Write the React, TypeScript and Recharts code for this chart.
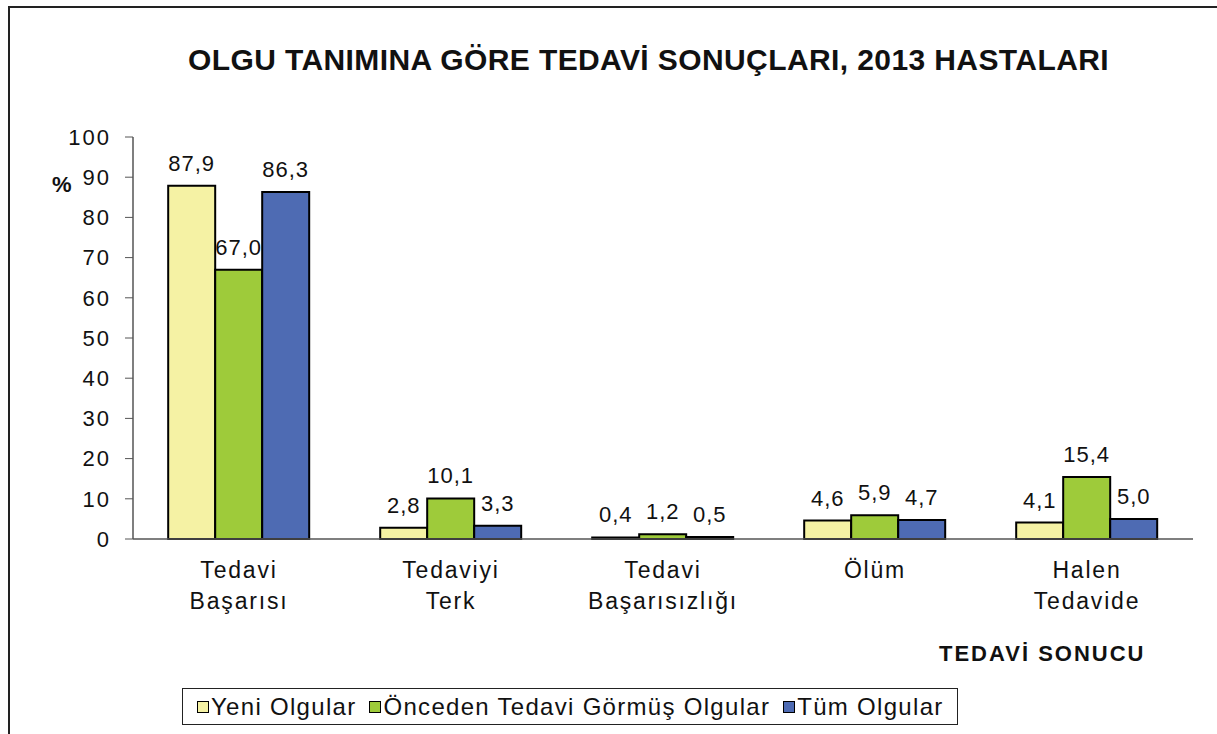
import { BarChart, Bar, XAxis, YAxis, LabelList } from "recharts";

const CATEGORIES = [
  ["Tedavi", "Başarısı"],
  ["Tedaviyi", "Terk"],
  ["Tedavi", "Başarısızlığı"],
  ["Ölüm"],
  ["Halen", "Tedavide"],
];
const YENI = [87.9, 2.8, 0.4, 4.6, 4.1];
const ONCEDEN = [67.0, 10.1, 1.2, 5.9, 15.4];
const TUM = [86.3, 3.3, 0.5, 4.7, 5.0];
const Y_TICKS = [0, 10, 20, 30, 40, 50, 60, 70, 80, 90, 100];
const EDGE_TICKS = [0, 1, 2, 3, 4, 5];

const SERIES = [
  { key: "yeni", name: "Yeni Olgular", color: "#F5F2A4" },
  { key: "onceden", name: "Önceden Tedavi Görmüş Olgular", color: "#9ECB3A" },
  { key: "tum", name: "Tüm Olgular", color: "#4E6BB3" },
];

const data = CATEGORIES.map((c, i) => ({
  name: c.join("\n"),
  yeni: YENI[i],
  onceden: ONCEDEN[i],
  tum: TUM[i],
}));

const FONT = '"Liberation Sans", Arial, sans-serif';
const fmt = (v: unknown) => Number(v).toFixed(1).replace(".", ",");

function CatTick(props: any) {
  const { x, y, payload } = props;
  const lines = String(payload.value).split("\n");
  return (
    <text x={x} y={y} textAnchor="middle" fill="#111" fontSize={23} fontFamily={FONT} letterSpacing={1.8}>
      {lines.map((l, i) => (
        <tspan key={i} x={x} y={y + 39 + i * 31}>
          {l}
        </tspan>
      ))}
    </text>
  );
}

export default function App() {
  return (
    <div style={{ position: "absolute", left: 0, top: 0, width: 1217, height: 734, overflow: "hidden", background: "#fff", fontFamily: FONT, color: "#111" }}>
      <div style={{ position: "absolute", left: 8, top: 6, width: 1300, height: 800, borderLeft: "2px solid #222", borderTop: "2px solid #222" }} />
      <div style={{ position: "absolute", left: 188, top: 45, fontSize: 30, lineHeight: "30px", fontWeight: "bold", letterSpacing: 0.4, whiteSpace: "nowrap" }}>
        OLGU TANIMINA GÖRE TEDAVİ SONUÇLARI, 2013 HASTALARI
      </div>
      <div style={{ position: "absolute", left: 52, top: 174, fontSize: 22, lineHeight: "22px", fontWeight: "bold" }}>%</div>
      <div style={{ position: "absolute", left: 939, top: 643, fontSize: 22, lineHeight: "22px", fontWeight: "bold", letterSpacing: 2, whiteSpace: "nowrap" }}>
        TEDAVİ SONUCU
      </div>
      <div style={{ position: "absolute", left: 0, top: 0 }}>
        <BarChart
          width={1217}
          height={734}
          data={data}
          margin={{ top: 137, right: 24, left: 73, bottom: 95 }}
          barCategoryGap="16.6%"
          barGap={0}
        >
          <XAxis xAxisId="edge" type="number" domain={[0, 5]} ticks={EDGE_TICKS} tick={false} axisLine={false} tickSize={7} height={0} stroke="#555" />
          <XAxis xAxisId="cat" dataKey="name" height={100} tickLine={false} tickSize={0} tickMargin={0} interval={0} axisLine={{ stroke: "#555", strokeWidth: 1.5 }} tick={<CatTick />} />
          <YAxis
            width={60}
            domain={[0, 100]}
            ticks={Y_TICKS}
            interval={0}
            tickSize={8}
            tickMargin={14}
            axisLine={{ stroke: "#555", strokeWidth: 1.5 }}
            tickLine={{ stroke: "#555" }}
            tick={{ fontSize: 22, fill: "#111", fontFamily: FONT, letterSpacing: 2 }}
          />
          {SERIES.map((s) => (
            <Bar key={s.key} xAxisId="cat" dataKey={s.key} name={s.name} fill={s.color} stroke="#000" strokeWidth={2} isAnimationActive={false}>
              <LabelList dataKey={s.key} position="top" offset={15} formatter={fmt} style={{ fontSize: 22, fill: "#111", fontFamily: FONT, letterSpacing: 1 }} />
            </Bar>
          ))}
        </BarChart>
      </div>
      <div style={{ position: "absolute", left: 182, top: 688, width: 776, height: 37, border: "1.5px solid #222", boxSizing: "border-box", display: "flex", alignItems: "center", paddingLeft: 14, fontSize: 24, letterSpacing: 1.3, whiteSpace: "nowrap" }}>
        {SERIES.map((s) => (
          <span key={s.key} style={{ display: "flex", alignItems: "center", marginRight: 13 }}>
            <span style={{ display: "inline-block", width: 10, height: 10, background: s.color, border: "1.5px solid #000", marginRight: 2 }} />
            {s.name}
          </span>
        ))}
      </div>
    </div>
  );
}
